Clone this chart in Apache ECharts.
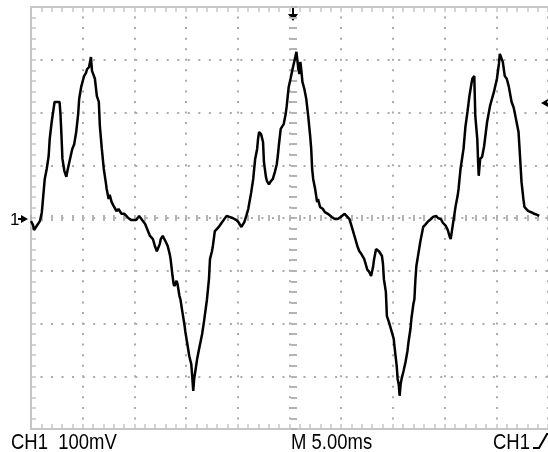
<!DOCTYPE html>
<html>
<head>
<meta charset="utf-8">
<script src="https://cdn.jsdelivr.net/npm/echarts@6/dist/echarts.min.js"></script>
<style>
html,body{margin:0;padding:0;background:#fff;}
#chart{width:548px;height:452px;}
</style>
</head>
<body>
<div id="chart"></div>
<script>
// Time (ms) from left edge of screen, 5.00 ms/div
const timeMs = [0,0.19,0.29,0.48,0.67,0.86,1.05,1.33,1.52,1.71,1.81,2.00,2.28,2.47,2.76,2.85,2.95,3.04,3.23,3.42,3.52,3.71,3.99,4.18,4.37,4.56,4.66,4.85,5.13,5.32,5.42,5.61,5.80,5.90,6.09,6.18,6.28,6.37,6.56,6.66,6.85,7.04,7.23,7.32,7.51,7.61,7.80,7.99,8.27,8.46,8.75,9.03,9.22,9.41,9.70,9.89,10.17,10.46,10.65,10.84,11.03,11.32,11.51,11.79,11.98,12.17,12.27,12.46,12.55,12.74,12.93,13.03,13.22,13.41,13.50,13.69,13.79,13.88,14.07,14.17,14.36,14.45,14.64,14.83,14.93,15.12,15.31,15.50,15.59,15.69,15.78,15.88,16.07,16.26,16.55,16.74,17.02,17.21,17.31,17.50,17.59,17.78,17.97,18.16,18.44,18.63,18.92,19.20,19.49,19.68,19.87,20.06,20.35,20.63,20.82,21.01,21.30,21.49,21.68,21.87,21.96,22.06,22.25,22.44,22.53,22.72,22.82,23.01,23.20,23.39,23.58,23.77,23.87,23.96,24.15,24.44,24.63,24.73,24.92,25.10,25.29,25.48,25.67,25.77,25.86,25.96,26.05,26.15,26.25,26.43,26.62,26.81,27.00,27.10,27.19,27.29,27.48,27.67,27.76,27.95,28.23,28.42,28.71,29.09,29.38,29.66,29.95,30.14,30.33,30.52,30.80,31.09,31.28,31.56,31.75,31.94,32.23,32.51,32.70,32.89,33.08,33.18,33.37,33.56,33.65,33.94,34.04,34.13,34.32,34.42,34.61,34.89,35.08,35.18,35.37,35.46,35.56,35.65,35.75,35.84,36.03,36.22,36.41,36.51,36.70,36.79,36.98,37.08,37.17,37.27,37.46,37.65,37.74,37.93,38.12,38.41,38.69,38.88,39.17,39.36,39.64,39.83,40.12,40.31,40.50,40.59,40.78,40.88,41.07,41.26,41.35,41.54,41.73,41.83,42.02,42.21,42.40,42.59,42.68,42.87,42.97,43.16,43.25,43.30,43.44,43.63,43.82,44.11,44.39,44.58,44.77,45.06,45.25,45.34,45.53,45.63,45.82,46.01,46.20,46.48,46.67,46.77,46.96,47.15,47.25,47.44,47.62,47.72,47.91,48.10,48.39,48.67,48.96,49.15];
// CH1 voltage (mV), 100 mV/div
const voltageMv = [-6,-13,-23,-17,-19,-6,11,74,93,118,150,182,220,222,220,197,155,112,89,78,89,106,131,140,163,197,226,248,269,275,282,286,305,279,269,264,267,231,220,174,131,93,68,55,36,44,30,23,13,17,8,8,4,0,-4,-2,-4,4,2,-6,-11,-25,-34,-40,-53,-63,-64,-49,-40,-34,-36,-45,-53,-68,-78,-110,-125,-129,-119,-125,-148,-154,-178,-201,-216,-239,-262,-277,-300,-328,-305,-292,-267,-248,-220,-195,-154,-116,-78,-63,-53,-25,-21,-17,-9,-6,4,2,0,-2,-4,-8,-17,-8,4,17,49,74,112,131,150,163,159,144,106,78,70,64,70,74,87,102,118,136,169,178,197,212,248,264,282,298,315,298,282,273,296,279,258,245,226,193,155,131,93,74,55,30,36,21,17,11,8,2,-2,-2,2,2,8,11,-2,-21,-34,-53,-63,-68,-78,-97,-102,-110,-93,-78,-59,-61,-63,-72,-87,-116,-140,-186,-197,-216,-229,-248,-281,-305,-315,-337,-315,-305,-290,-273,-252,-235,-210,-191,-163,-154,-119,-91,-68,-45,-36,-17,-13,-6,-2,2,4,0,-2,-9,-15,-23,-36,-40,-15,-2,23,42,55,93,118,131,174,201,231,254,264,269,193,150,102,80,112,116,136,182,212,226,239,264,292,311,301,296,269,264,250,220,210,201,182,163,131,68,36,21,17,13,11,8,6,4];
// Screen readouts
const readouts = ['CH1  100mV', 'M 5.00ms', 'CH1'];
const channelMarker = '1';

const chart = echarts.init(document.getElementById('chart'), null, {renderer: 'canvas'});
const data = timeMs.map((t, i) => [t, voltageMv[i]]);

const borderColor = '#c6c6c6';
const dotColor = '#ababab';
const dashColor = '#b4b4b4';

function borderX(position) {
  return {
    type: 'value', gridIndex: 0, min: 0, max: 50, interval: 5, position: position,
    axisLine: {show: true, onZero: false, lineStyle: {color: borderColor, width: 2}},
    axisTick: {show: true, inside: true, length: 5, lineStyle: {color: borderColor, width: 1.5}},
    minorTick: {show: true, splitNumber: 5, length: 5, lineStyle: {color: borderColor, width: 1.5}},
    axisLabel: {show: false},
    splitLine: {show: false}
  };
}
function centerX(inside) {
  return {
    type: 'value', gridIndex: 0, min: 0, max: 50, interval: 5, position: 'bottom', offset: -211,
    axisLine: {show: false, onZero: false},
    axisTick: {show: true, inside: inside, length: 3, lineStyle: {color: dashColor, width: 2}},
    minorTick: {show: true, splitNumber: 5, length: 3, lineStyle: {color: dashColor, width: 2}},
    axisLabel: {show: false},
    splitLine: {show: false}
  };
}
function centerY(inside) {
  return {
    type: 'value', gridIndex: 0, min: -400, max: 400, interval: 100, position: 'left', offset: -263,
    axisLine: {show: false, onZero: false},
    axisTick: {show: true, inside: inside, length: 3, lineStyle: {color: dashColor, width: 2}},
    minorTick: {show: true, splitNumber: 5, length: 3, lineStyle: {color: dashColor, width: 2}},
    axisLabel: {show: false},
    splitLine: {show: false}
  };
}

const mainX = borderX('bottom');
mainX.splitLine = {show: true, lineStyle: {color: dotColor, width: 2, type: [2, 8.55], dashOffset: 1}};

const option = {
  animation: false,
  backgroundColor: '#ffffff',
  grid: {left: 31, top: 7, width: 526, height: 422, show: false},
  xAxis: [mainX, borderX('top'), centerX(true), centerX(false)],
  yAxis: [
    {
      type: 'value', gridIndex: 0, min: -400, max: 400, interval: 100, position: 'left',
      axisLine: {show: true, onZero: false, lineStyle: {color: borderColor, width: 2}},
      axisTick: {show: true, inside: true, length: 5, lineStyle: {color: borderColor, width: 1.5}},
      minorTick: {show: true, splitNumber: 5, length: 5, lineStyle: {color: borderColor, width: 1.5}},
      axisLabel: {show: false},
      splitLine: {show: true, lineStyle: {color: dotColor, width: 2, type: [2, 8.52], dashOffset: 1}}
    },
    centerY(true), centerY(false)
  ],
  series: [{
    type: 'line', xAxisIndex: 0, yAxisIndex: 0, data: data,
    showSymbol: false, symbol: 'none', smooth: false,
    lineStyle: {color: '#000', width: 2.5}, z: 5
  }],
  graphic: [
    {type: 'text', x: 11, y: 443, scaleX: 0.84, style: {text: readouts[0], fill: '#000', font: '22px "Liberation Sans"', verticalAlign: 'middle'}},
    {type: 'text', x: 291, y: 443, scaleX: 0.84, style: {text: readouts[1], fill: '#000', font: '22px "Liberation Sans"', verticalAlign: 'middle'}},
    {type: 'text', x: 493, y: 443, scaleX: 0.84, style: {text: readouts[2], fill: '#000', font: '22px "Liberation Sans"', verticalAlign: 'middle'}},
    {type: 'polyline', shape: {points: [[533, 448], [539, 448], [547, 434], [552, 434]]}, style: {stroke: '#000', lineWidth: 2, fill: null}},
    {type: 'text', x: 10, y: 220, style: {text: channelMarker, fill: '#000', font: '17px "Liberation Sans"', verticalAlign: 'middle'}},
    {type: 'line', shape: {x1: 18, y1: 219, x2: 23, y2: 219}, style: {stroke: '#000', lineWidth: 2}},
    {type: 'polygon', shape: {points: [[21, 215], [28, 219], [21, 223]]}, style: {fill: '#000'}},
    {type: 'line', shape: {x1: 293, y1: 8, x2: 293, y2: 15}, style: {stroke: '#000', lineWidth: 2}},
    {type: 'polygon', shape: {points: [[288, 14], [298, 14], [293, 21]]}, style: {fill: '#000'}},
    {type: 'polygon', shape: {points: [[541, 103], [548, 99], [548, 107]]}, style: {fill: '#000'}}
  ]
};
chart.setOption(option);
</script>
</body>
</html>
